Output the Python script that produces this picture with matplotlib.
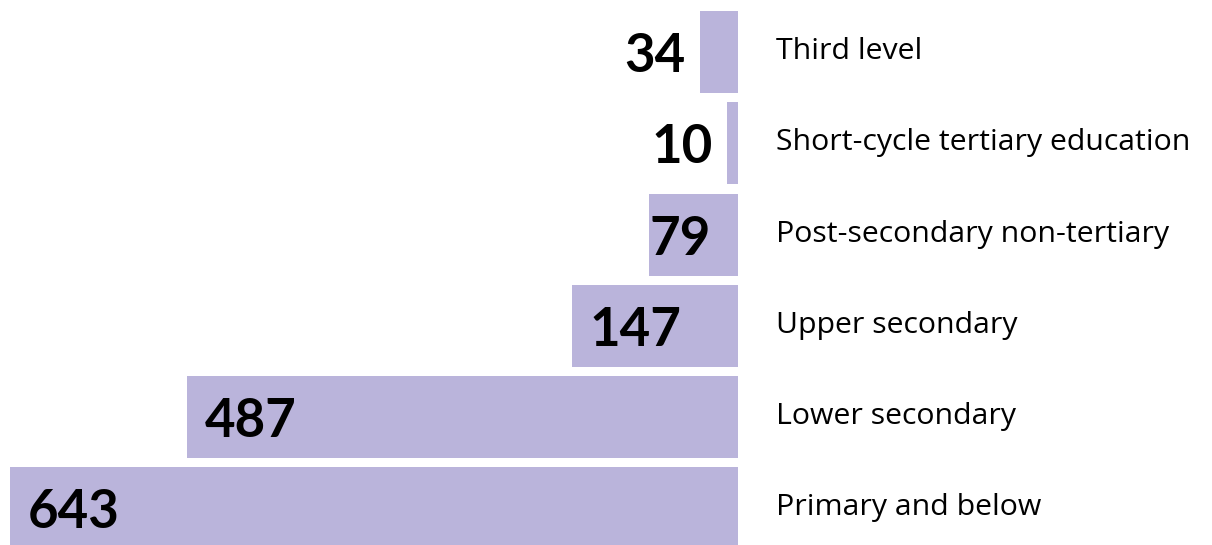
import matplotlib
matplotlib.use("Agg")
import matplotlib.pyplot as plt

categories = ["Primary and below", "Lower secondary", "Upper secondary",
              "Post-secondary non-tertiary", "Short-cycle tertiary education",
              "Third level"]
values = [643, 487, 147, 79, 10, 34]

BAR_COLOR = "#bab4db"

fig = plt.figure(figsize=(12.12, 5.45), dpi=100)
ax = fig.add_axes([10 / 1212, 0, 728 / 1212, 1])
ypos = list(range(len(values)))
ax.barh(ypos, values, height=0.9, color=BAR_COLOR, linewidth=0)
ax.set_xlim(643, 0)
ax.set_ylim(-0.40, 5.57)
ax.axis("off")

for y, v, c in zip(ypos, values, categories):
    if v >= 100:
        xy, off, ha = (v, y), 18, "left"
    elif v >= 50:
        xy, off, ha = (0, y), -27, "right"
    else:
        xy, off, ha = (v, y), -14, "right"
    ax.annotate(str(v), xy=xy, xytext=(off, 0), textcoords="offset pixels",
                ha=ha, va="center_baseline", fontsize=38, fontweight="bold",
                family="Lato", color="black", annotation_clip=False)
    ax.annotate(c, xy=(0, y), xytext=(38, 4), textcoords="offset pixels",
                ha="left", va="center_baseline", fontsize=21.8,
                family="Open Sans", color="black", annotation_clip=False)

fig.savefig("out.png", dpi=100)
